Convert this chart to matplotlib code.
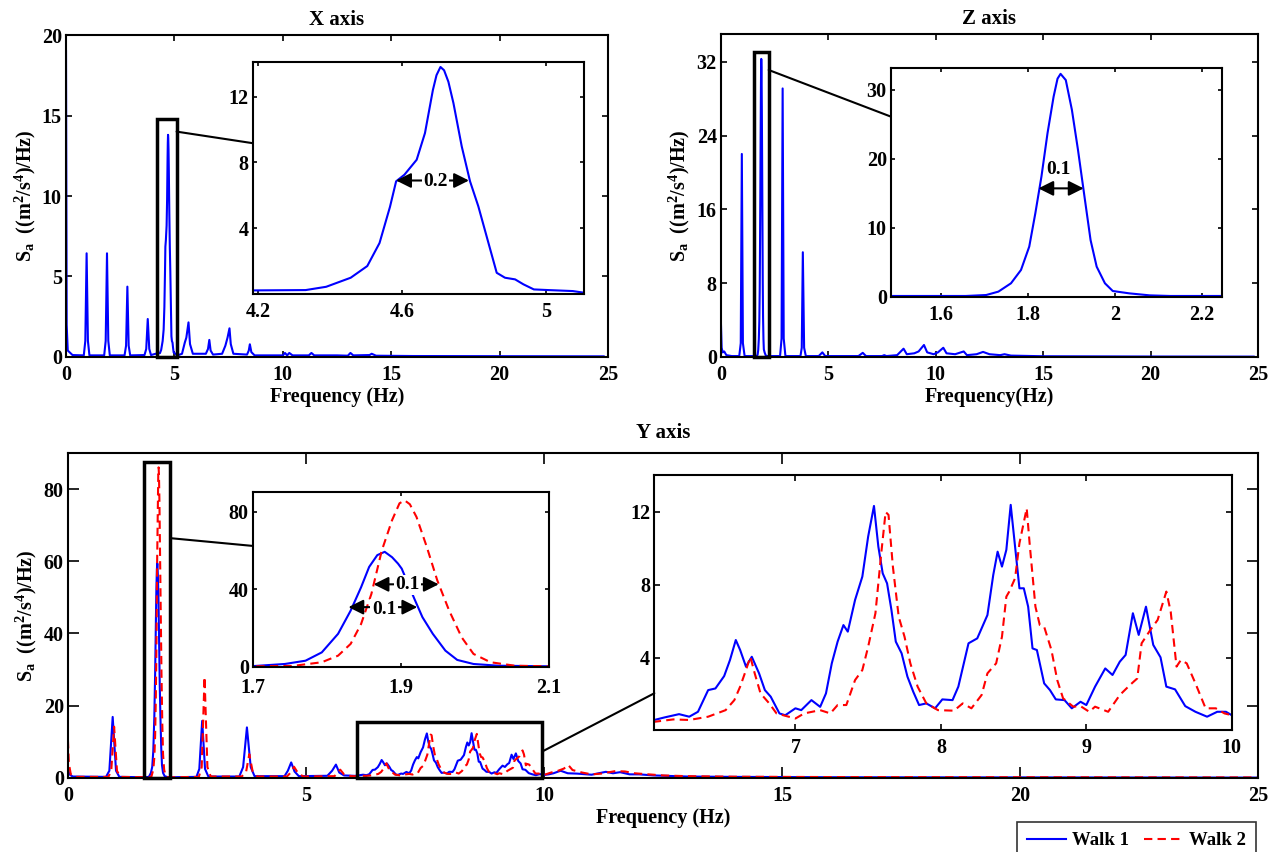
import numpy as np
import matplotlib
matplotlib.use("Agg")
import matplotlib.pyplot as plt
from matplotlib.patches import Rectangle, ConnectionPatch
from matplotlib.ticker import FormatStrFormatter

plt.rcParams['font.family'] = ['Liberation Serif', 'DejaVu Serif']
plt.rcParams['font.weight'] = 'bold'
plt.rcParams['axes.titleweight'] = 'bold'
plt.rcParams['axes.labelweight'] = 'bold'
plt.rcParams['mathtext.fontset'] = 'custom'
plt.rcParams['mathtext.rm'] = 'Liberation Serif:bold'
plt.rcParams['mathtext.bf'] = 'Liberation Serif:bold'
plt.rcParams['mathtext.it'] = 'Liberation Serif:bold:italic'
plt.rcParams['mathtext.default'] = 'bf'

# ---- spectra (frequency in Hz, PSD in (m2/s4)/Hz) ----
x_axis_psd = [
    (0.0, 19.0), (0.03, 2.0), (0.08, 0.4), (0.3, 0.12), (0.82, 0.1), (0.89, 1.0),
    (0.95, 6.44), (1.01, 1.0), (1.08, 0.1), (1.76, 0.1), (1.83, 1.0), (1.89, 6.44),
    (1.95, 1.0), (2.02, 0.1), (2.7, 0.1), (2.77, 0.7), (2.83, 4.37), (2.89, 0.7),
    (2.96, 0.1), (3.62, 0.12), (3.7, 0.5), (3.77, 2.36), (3.84, 0.5), (3.92, 0.12),
    (4.186, 0.22), (4.332, 0.24), (4.389, 0.44), (4.457, 0.99), (4.503, 1.70),
    (4.537, 3.1), (4.566, 5.3), (4.583, 6.85), (4.606, 7.25), (4.640, 8.16),
    (4.663, 9.78), (4.685, 12.4), (4.695, 13.3), (4.706, 13.8), (4.716, 13.6),
    (4.728, 12.9), (4.742, 11.6), (4.765, 8.97), (4.788, 6.85), (4.811, 5.33),
    (4.839, 3.11), (4.862, 1.29), (4.885, 0.99), (4.913, 0.89), (4.936, 0.59),
    (4.965, 0.28), (5.005, 0.24), (5.073, 0.18), (5.104, 0.08),
    (5.35, 0.2), (5.48, 0.9), (5.55, 1.2), (5.65, 2.15), (5.72, 0.8), (5.85, 0.2),
    (6.45, 0.2), (6.55, 0.5), (6.61, 1.06), (6.67, 0.4), (6.78, 0.15),
    (7.2, 0.2), (7.35, 0.7), (7.45, 1.2), (7.54, 1.78), (7.6, 0.8), (7.72, 0.2),
    (8.35, 0.15), (8.43, 0.4), (8.48, 0.79), (8.55, 0.3), (8.7, 0.1),
    (9.5, 0.1), (10.0, 0.1), (10.1, 0.25), (10.2, 0.1), (10.3, 0.25), (10.45, 0.1),
    (11.2, 0.1), (11.32, 0.25), (11.45, 0.1), (12.5, 0.1), (13.0, 0.08), (13.12, 0.25),
    (13.25, 0.1), (14.0, 0.12), (14.1, 0.2), (14.3, 0.08), (16.0, 0.06), (20.0, 0.05),
    (24.8, 0.04),
]

z_axis_psd = [
    (0.0, 3.47), (0.03, 1.0), (0.08, 0.5), (0.15, 0.6), (0.25, 0.2), (0.5, 0.1),
    (0.85, 0.1), (0.92, 1.5), (0.97, 22.0), (1.02, 1.5), (1.1, 0.1),
    (1.485, 0.1), (1.657, 0.1), (1.704, 0.24), (1.732, 0.73), (1.761, 1.94),
    (1.784, 3.87), (1.803, 7.26), (1.817, 12.1), (1.831, 17.4), (1.845, 23.7),
    (1.859, 29.0), (1.868, 31.6), (1.875, 32.3), (1.887, 31.4), (1.901, 27.1),
    (1.915, 21.3), (1.930, 14.5), (1.944, 8.2), (1.958, 4.35), (1.977, 1.94),
    (1.995, 0.82), (2.033, 0.48), (2.080, 0.19), (2.127, 0.1), (2.247, 0.1),
    (2.75, 0.1), (2.82, 2.0), (2.87, 29.1), (2.92, 2.0), (3.0, 0.1),
    (3.7, 0.1), (3.76, 1.0), (3.81, 11.35), (3.87, 1.0), (3.95, 0.1),
    (4.55, 0.1), (4.72, 0.5), (4.85, 0.1), (6.4, 0.1), (6.6, 0.45), (6.75, 0.1),
    (7.5, 0.1), (7.6, 0.2), (7.7, 0.1), (8.2, 0.2), (8.5, 0.9), (8.65, 0.3),
    (9.0, 0.4), (9.2, 0.6), (9.45, 1.3), (9.6, 0.5), (9.9, 0.3), (10.1, 0.5),
    (10.35, 1.0), (10.5, 0.4), (10.9, 0.3), (11.3, 0.6), (11.45, 0.2), (11.9, 0.3),
    (12.2, 0.55), (12.5, 0.3), (13.0, 0.2), (13.2, 0.3), (13.5, 0.15), (15.0, 0.08),
    (20.0, 0.05), (24.8, 0.04),
]

y_walk1_psd = [
    (0.0, 2.5), (0.03, 1.0), (0.1, 0.4), (0.8, 0.3), (0.87, 2.0), (0.94, 16.9),
    (1.01, 2.0), (1.08, 0.3), (1.6, 0.2),
    (1.700, 0.3), (1.743, 1.4), (1.771, 3.1), (1.793, 7.4), (1.815, 17.0),
    (1.832, 29.0), (1.846, 41.0), (1.857, 51.6), (1.868, 57.7), (1.878, 59.4),
    (1.888, 56.6), (1.896, 53.3), (1.901, 50.7), (1.918, 35.2), (1.929, 25.6),
    (1.943, 17.0), (1.960, 8.3), (1.976, 3.5), (1.998, 1.4), (2.032, 0.5), (2.1, 0.2),
    (2.2, 0.2), (2.7, 0.3), (2.76, 2.5), (2.82, 15.8), (2.88, 2.5), (2.95, 0.4),
    (3.6, 0.4), (3.68, 3.0), (3.76, 14.0), (3.84, 3.0), (3.92, 0.5),
    (4.55, 0.5), (4.62, 2.0), (4.69, 4.3), (4.76, 1.8), (4.85, 0.5),
    (5.45, 0.6), (5.55, 2.0), (5.63, 3.7), (5.7, 1.5), (5.8, 0.7), (5.97, 0.6),
    (6.03, 0.58), (6.10, 0.72), (6.20, 0.90), (6.27, 0.76), (6.33, 1.03), (6.40, 2.22),
    (6.45, 2.31), (6.51, 2.99), (6.55, 3.87), (6.59, 4.97), (6.62, 4.42), (6.66, 3.51),
    (6.70, 4.05), (6.75, 3.14), (6.79, 2.22), (6.83, 1.86), (6.89, 0.94), (6.93, 0.84),
    (7.00, 1.22), (7.04, 1.12), (7.11, 1.67), (7.17, 1.30), (7.21, 2.04), (7.25, 3.69),
    (7.29, 4.88), (7.33, 5.79), (7.36, 5.43), (7.41, 7.17), (7.46, 8.45), (7.50, 10.65),
    (7.54, 12.33), (7.57, 10.1), (7.60, 8.63), (7.63, 8.08), (7.66, 6.62), (7.69, 4.88),
    (7.73, 4.24), (7.77, 2.96), (7.81, 2.13), (7.85, 1.40), (7.90, 1.49), (7.96, 1.22),
    (8.01, 1.71), (8.08, 1.67), (8.12, 2.41), (8.19, 4.79), (8.25, 5.06), (8.32, 6.34),
    (8.36, 8.54), (8.39, 9.82), (8.42, 9.0), (8.45, 9.92), (8.48, 12.39), (8.51, 10.10),
    (8.54, 7.81), (8.57, 7.81), (8.60, 6.80), (8.63, 4.51), (8.66, 4.42), (8.71, 2.59),
    (8.75, 2.22), (8.79, 1.71), (8.85, 1.67), (8.90, 1.22), (8.96, 1.58), (9.00, 1.40),
    (9.06, 2.41), (9.13, 3.41), (9.18, 3.05), (9.23, 3.78), (9.27, 4.15), (9.32, 6.44),
    (9.36, 5.25), (9.41, 6.80), (9.46, 4.70), (9.51, 4.02), (9.55, 2.41), (9.61, 2.26),
    (9.68, 1.34), (9.75, 1.03), (9.83, 0.76), (9.90, 1.03), (9.96, 1.03), (10.0, 0.84),
    (10.1, 1.0), (10.2, 1.3), (10.35, 2.0), (10.5, 1.3), (10.7, 1.2), (11.0, 0.9),
    (11.3, 1.7), (11.45, 1.3), (11.6, 1.6), (11.8, 1.0), (12.0, 1.0), (12.3, 0.7),
    (13.0, 0.4), (14.0, 0.3), (16.0, 0.2), (20.0, 0.15), (25.0, 0.1),
]

y_walk2_psd = [
    (0.0, 10.5), (0.02, 4.0), (0.06, 1.0), (0.15, 0.3), (0.85, 0.3), (0.91, 2.0),
    (0.97, 14.2), (1.03, 2.0), (1.1, 0.3), (1.6, 0.2),
    (1.7, 0.2), (1.754, 0.4), (1.793, 2.3), (1.815, 5.7), (1.832, 11.8), (1.846, 22.0),
    (1.860, 37.6), (1.874, 60.0), (1.888, 75.8), (1.898, 84.5), (1.905, 86.0),
    (1.912, 84.0), (1.921, 77.4), (1.935, 61.8), (1.949, 44.7), (1.965, 29.1),
    (1.982, 15.2), (1.998, 6.6), (2.021, 2.3), (2.054, 0.5), (2.1, 0.2),
    (2.2, 0.2), (2.75, 0.3), (2.81, 3.0), (2.87, 28.0), (2.93, 3.0), (3.0, 0.4),
    (3.65, 0.4), (3.74, 1.5), (3.81, 6.6), (3.88, 1.8), (3.98, 0.4),
    (4.6, 0.4), (4.68, 1.5), (4.75, 3.1), (4.84, 1.2), (4.95, 0.4),
    (5.6, 0.5), (5.67, 1.5), (5.72, 2.3), (5.8, 1.0), (5.95, 0.5),
    (6.03, 0.48), (6.16, 0.61), (6.27, 0.58), (6.40, 0.76), (6.52, 1.12), (6.58, 1.67),
    (6.62, 2.41), (6.66, 3.32), (6.69, 4.05), (6.72, 3.14), (6.76, 2.04), (6.82, 1.49),
    (6.87, 0.94), (7.00, 0.66), (7.06, 0.94), (7.17, 1.12), (7.24, 0.94), (7.29, 1.40),
    (7.35, 1.40), (7.41, 2.77), (7.46, 3.32), (7.50, 4.6), (7.55, 6.44), (7.59, 9.73),
    (7.62, 12.0), (7.64, 11.84), (7.67, 9.0), (7.71, 6.25), (7.75, 5.15), (7.79, 3.69),
    (7.84, 2.41), (7.90, 1.49), (7.98, 1.12), (8.09, 1.09), (8.15, 1.49), (8.21, 1.22),
    (8.28, 1.95), (8.32, 3.14), (8.38, 3.69), (8.42, 5.15), (8.45, 7.35), (8.47, 7.63),
    (8.51, 8.36), (8.54, 10.28), (8.59, 12.2), (8.61, 10.28), (8.65, 6.80), (8.68, 5.79),
    (8.71, 5.70), (8.76, 4.42), (8.80, 2.77), (8.84, 1.77), (8.91, 1.31), (8.96, 1.34),
    (9.02, 1.03), (9.06, 1.31), (9.15, 1.03), (9.23, 1.95), (9.30, 2.50), (9.35, 2.86),
    (9.38, 4.79), (9.44, 5.52), (9.49, 6.07), (9.55, 7.63), (9.58, 6.53), (9.62, 3.51),
    (9.65, 3.87), (9.69, 3.69), (9.75, 2.59), (9.82, 1.22), (9.89, 1.22), (9.95, 0.94),
    (10.0, 0.84), (10.15, 1.5), (10.3, 2.0), (10.42, 2.6), (10.51, 3.6), (10.6, 2.2),
    (10.8, 1.5), (11.0, 1.0), (11.2, 1.2), (11.5, 1.9), (11.7, 1.8), (11.9, 1.3),
    (12.2, 1.0), (12.5, 0.7), (13.0, 0.5), (14.0, 0.35), (16.0, 0.25), (20.0, 0.2),
    (25.0, 0.15),
]

fx, sx = np.array(x_axis_psd).T
fz, sz = np.array(z_axis_psd).T
fy1, sy1 = np.array(y_walk1_psd).T
fy2, sy2 = np.array(y_walk2_psd).T

ylabel = r'S$_a$  ((m$^2$/s$^4$)/Hz)'
blue = (0, 0, 1)
red = (1, 0, 0)


def style(ax, ticklen, labelsize=14.5, xpad=6):
    ax.tick_params(direction='in', top=True, right=True, length=ticklen, width=1.2,
                   labelsize=labelsize)
    ax.tick_params(axis='x', pad=xpad)
    ax.tick_params(axis='y', pad=3)
    for s in ax.spines.values():
        s.set_linewidth(1.5)
    ax.xaxis.set_major_formatter(FormatStrFormatter('%g'))
    ax.yaxis.set_major_formatter(FormatStrFormatter('%g'))


fig = plt.figure(figsize=(12.77, 8.52), dpi=100)

ax_x = fig.add_axes([0.0517, 0.5810, 0.4244, 0.3779])
ax_z = fig.add_axes([0.5646, 0.5810, 0.4205, 0.3791])
ax_y = fig.add_axes([0.0532, 0.0869, 0.9319, 0.3815])
ins_x = fig.add_axes([0.1981, 0.6549, 0.2592, 0.2723])
ins_z = fig.add_axes([0.6977, 0.6518, 0.2595, 0.2688])
ins_y1 = fig.add_axes([0.1981, 0.2175, 0.2318, 0.2054])
ins_y2 = fig.add_axes([0.5124, 0.1432, 0.4522, 0.2993])

# X axis
ax_x.plot(fx, sx, color=blue, lw=1.5)
ax_x.set_xlim(0, 25)
ax_x.set_ylim(0, 20)
ax_x.set_xticks([0, 5, 10, 15, 20, 25])
ax_x.set_yticks([0, 5, 10, 15, 20])
ax_x.set_title('X axis', fontsize=15, pad=7)
ax_x.set_xlabel('Frequency (Hz)', fontsize=14.5, labelpad=1)
ax_x.set_ylabel(ylabel, fontsize=14.5, labelpad=3)
style(ax_x, 4)

ins_x.plot(fx, sx, color=blue, lw=1.5)
ins_x.set_xlim(4.186, 5.104)
ins_x.set_ylim(0, 14.1)
ins_x.set_xticks([4.2, 4.6, 5.0])
ins_x.set_yticks([4, 8, 12])
style(ins_x, 3)

# Z axis
ax_z.plot(fz, sz, color=blue, lw=1.5)
ax_z.set_xlim(0, 25)
ax_z.set_ylim(0, 35)
ax_z.set_xticks([0, 5, 10, 15, 20, 25])
ax_z.set_yticks([0, 8, 16, 24, 32])
ax_z.set_title('Z axis', fontsize=15, pad=7)
ax_z.set_xlabel('Frequency(Hz)', fontsize=14.5, labelpad=1)
ax_z.set_ylabel(ylabel, fontsize=14.5, labelpad=3)
style(ax_z, 4)

ins_z.plot(fz, sz, color=blue, lw=1.5)
ins_z.set_xlim(1.485, 2.247)
ins_z.set_ylim(0, 33.2)
ins_z.set_xticks([1.6, 1.8, 2.0, 2.2])
ins_z.set_yticks([0, 10, 20, 30])
style(ins_z, 3)

# Y axis, two walks
for ax in (ax_y, ins_y1, ins_y2):
    ax.plot(fy1, sy1, color=blue, lw=1.5, label='Walk 1')
    ax.plot(fy2, sy2, color=red, lw=1.5, dashes=(4, 2.5), label='Walk 2')
ax_y.set_xlim(0, 25)
ax_y.set_ylim(0, 90)
ax_y.set_xticks([0, 5, 10, 15, 20, 25])
ax_y.set_yticks([0, 20, 40, 60, 80])
ax_y.set_title('Y axis', fontsize=15, pad=11)
ax_y.set_xlabel('Frequency (Hz)', fontsize=14.5, labelpad=1)
ax_y.set_ylabel(ylabel, fontsize=14.5, labelpad=3)
style(ax_y, 8)

ins_y1.set_xlim(1.7, 2.1)
ins_y1.set_ylim(0, 90.5)
ins_y1.set_xticks([1.7, 1.9, 2.1])
ins_y1.set_yticks([0, 40, 80])
style(ins_y1, 3, xpad=8)

ins_y2.set_xlim(6.03, 10.0)
ins_y2.set_ylim(0.03, 14.03)
ins_y2.set_xticks([7, 8, 9, 10])
ins_y2.set_yticks([4, 8, 12])
style(ins_y2, 4)

# zoom boxes and their leader lines
boxes = [
    (ax_x, ins_x, (4.2, 0), 0.9, 14.8, (5.1, 14.0), 0.65),
    (ax_z, ins_z, (1.55, 0), 0.67, 33.0, (2.22, 31.1), 0.786),
    (ax_y, ins_y1, (1.59, 0), 0.56, 87.4, (2.15, 66.4), 0.69),
    (ax_y, ins_y2, (6.07, 0), 3.89, 15.6, (9.96, 7.3), 0.144),
]
for main, ins, corner, w, h, start, end_frac in boxes:
    main.add_patch(Rectangle(corner, w, h, fill=False, ec='black', lw=2.5,
                             clip_on=False, zorder=5))
    con = ConnectionPatch(xyA=start, coordsA=main.transData,
                          xyB=(0, end_frac), coordsB=ins.transAxes,
                          color='black', lw=1.5)
    fig.add_artist(con)

# half-power bandwidth markers
arrow = dict(arrowstyle='<|-|>,head_length=0.6,head_width=0.3', color='black',
             lw=1.5, mutation_scale=15, shrinkA=0, shrinkB=0)
white_box = dict(fc='white', ec='none', pad=1)

ins_x.annotate('', xy=(4.583, 6.9), xytext=(4.785, 6.9), arrowprops=arrow, zorder=4)
ins_x.text(4.693, 6.85, '0.2', ha='center', va='center', fontsize=14,
           bbox=white_box, zorder=6)

ins_z.annotate('', xy=(1.824, 15.7), xytext=(1.928, 15.7), arrowprops=arrow, zorder=4)
ins_z.text(1.871, 18.4, '0.1', ha='center', va='center', fontsize=14, zorder=6)

ins_y1.annotate('', xy=(1.863, 42.6), xytext=(1.951, 42.6), arrowprops=arrow, zorder=4)
ins_y1.text(1.909, 42.3, '0.1', ha='center', va='center', fontsize=14,
            bbox=white_box, zorder=6)
ins_y1.annotate('', xy=(1.829, 30.8), xytext=(1.922, 30.8), arrowprops=arrow, zorder=4)
ins_y1.text(1.877, 29.8, '0.1', ha='center', va='center', fontsize=14,
            bbox=white_box, zorder=6)

handles, labels = ax_y.get_legend_handles_labels()
leg = fig.legend(handles, labels, loc='upper right',
                 bbox_to_anchor=(1256 / 1277, 1 - 822 / 852), ncol=2,
                 fancybox=False, edgecolor='black', fontsize=13.5,
                 handlelength=2.1, borderaxespad=0, columnspacing=0.8,
                 handletextpad=0.3, borderpad=0.55)
leg.get_frame().set_linewidth(1.2)

fig.savefig('out.png', dpi=100)
